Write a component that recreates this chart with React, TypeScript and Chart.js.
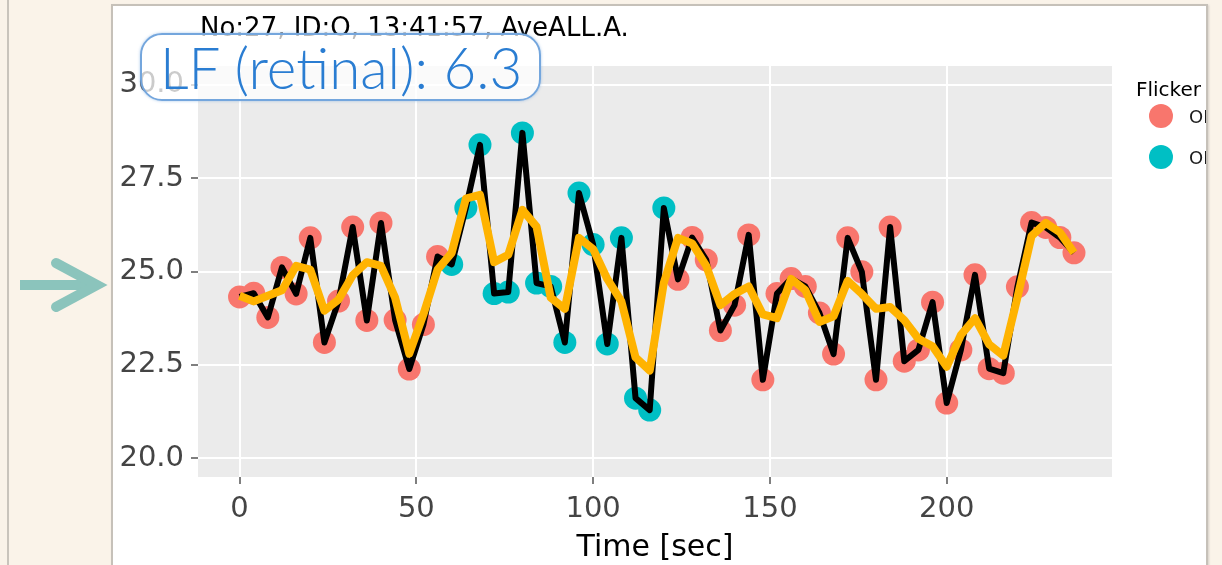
import React, { useEffect, useRef } from "react";
import { Chart, registerables } from "chart.js";

Chart.register(...registerables);

// ---- data ----
const times = [
  0, 4, 8, 12, 16, 20, 24, 28, 32, 36, 40, 44, 48, 52, 56, 60, 64, 68, 72, 76,
  80, 84, 88, 92, 96, 100, 104, 108, 112, 116, 120, 124, 128, 132, 136, 140,
  144, 148, 152, 156, 160, 164, 168, 172, 176, 180, 184, 188, 192, 196, 200,
  204, 208, 212, 216, 220, 224, 228, 232, 236,
];

const values = [
  24.32, 24.42, 23.77, 25.11, 24.4, 25.9, 23.1, 24.21, 26.19, 23.69, 26.3,
  23.7, 22.39, 23.58, 25.4, 25.19, 26.7, 28.39, 24.41, 24.45, 28.71, 24.69,
  24.6, 23.1, 27.1, 25.72, 23.06, 25.9, 21.61, 21.29, 26.7, 24.79, 25.91,
  25.31, 23.42, 24.1, 25.98, 22.1, 24.41, 24.81, 24.6, 23.89, 22.79, 25.9,
  24.99, 22.1, 26.19, 22.6, 22.9, 24.18, 21.48, 22.9, 24.91, 22.4, 22.28,
  24.59, 26.31, 26.18, 25.91, 25.5,
];

const flicker = [
  "OFF", "OFF", "OFF", "OFF", "OFF", "OFF", "OFF", "OFF", "OFF", "OFF",
  "OFF", "OFF", "OFF", "OFF", "OFF", "ON", "ON", "ON", "ON", "ON",
  "ON", "ON", "ON", "ON", "ON", "ON", "ON", "ON", "ON", "ON",
  "ON", "OFF", "OFF", "OFF", "OFF", "OFF", "OFF", "OFF", "OFF", "OFF",
  "OFF", "OFF", "OFF", "OFF", "OFF", "OFF", "OFF", "OFF", "OFF", "OFF",
  "OFF", "OFF", "OFF", "OFF", "OFF", "OFF", "OFF", "OFF", "OFF", "OFF",
];

const smoothed = [
  24.35, 24.2, 24.35, 24.5, 25.15, 25.05, 23.95, 24.25, 24.9, 25.25, 25.15,
  24.3, 22.8, 23.85, 25.05, 25.5, 26.95, 27.05, 25.25, 25.45, 26.65, 26.2,
  24.3, 24.0, 25.9, 25.6, 24.8, 24.2, 22.7, 22.35, 24.7, 25.9, 25.75, 25.15,
  24.1, 24.4, 24.6, 23.85, 23.75, 24.8, 24.5, 23.65, 23.8, 24.75, 24.4, 24.0,
  24.05, 23.7, 23.2, 23.0, 22.45, 23.3, 23.75, 23.05, 22.75, 24.3, 25.95,
  26.3, 26.05, 25.5,
];

const xTicks = [0, 50, 100, 150, 200];
const xTickLabels = ["0", "50", "100", "150", "200"];
const yTicks = [20, 22.5, 25, 27.5, 30];
const yTickLabels = ["20.0", "22.5", "25.0", "27.5", "30.0"];

const titleText = "No:27, ID:O, 13:41:57, AveALL.A.";
const xTitle = "Time [sec]";
const legendTitle = "Flicker";
const legendLabels = ["OFF", "ON"];
const badgeText = "LF (retinal): 6.3";

const OFF_COLOR = "#F8766D";
const ON_COLOR = "#00BFC4";
const BEIGE = "#faf3e9";
const FONT = "'DejaVu Sans', sans-serif";

const panelBg = {
  id: "panelBg",
  beforeDraw(chart: any) {
    const { ctx, chartArea } = chart;
    if (!chartArea) return;
    ctx.save();
    ctx.fillStyle = "#EBEBEB";
    ctx.fillRect(
      chartArea.left,
      chartArea.top,
      chartArea.right - chartArea.left,
      chartArea.bottom - chartArea.top
    );
    ctx.restore();
  },
};

function PlotCanvas() {
  const ref = useRef<HTMLCanvasElement | null>(null);

  useEffect(() => {
    if (!ref.current) return;
    const raw = times.map((t, i) => ({ x: t, y: values[i] }));
    const smooth = times.map((t, i) => ({ x: t, y: smoothed[i] }));
    const off = times
      .map((t, i) => ({ x: t, y: values[i], f: flicker[i] }))
      .filter((p) => p.f === "OFF")
      .map((p) => ({ x: p.x, y: p.y }));
    const on = times
      .map((t, i) => ({ x: t, y: values[i], f: flicker[i] }))
      .filter((p) => p.f === "ON")
      .map((p) => ({ x: p.x, y: p.y }));

    const chart = new Chart(ref.current, {
      type: "scatter",
      data: {
        datasets: [
          {
            label: "smooth",
            data: smooth,
            showLine: true,
            borderColor: "#FFB300",
            borderWidth: 8,
            pointRadius: 0,
            pointHoverRadius: 0,
            borderJoinStyle: "round",
            borderCapStyle: "butt",
            order: 1,
          } as any,
          {
            label: "raw",
            data: raw,
            showLine: true,
            borderColor: "#000000",
            borderWidth: 6,
            pointRadius: 0,
            pointHoverRadius: 0,
            borderJoinStyle: "round",
            order: 2,
          } as any,
          {
            label: legendLabels[0],
            data: off,
            pointRadius: 11.5,
            pointBackgroundColor: OFF_COLOR,
            pointBorderWidth: 0,
            backgroundColor: OFF_COLOR,
            borderWidth: 0,
            order: 3,
          } as any,
          {
            label: legendLabels[1],
            data: on,
            pointRadius: 11.5,
            pointBackgroundColor: ON_COLOR,
            pointBorderWidth: 0,
            backgroundColor: ON_COLOR,
            borderWidth: 0,
            order: 3,
          } as any,
        ],
      },
      options: {
        responsive: false,
        animation: false,
        devicePixelRatio: 1,
        layout: { padding: { left: 0, right: 93, top: 61, bottom: 0 } },
        plugins: {
          legend: { display: false },
          tooltip: { enabled: false },
          title: { display: false },
        },
        scales: {
          x: {
            type: "linear",
            min: -11.75,
            max: 246.75,
            afterBuildTicks: (s: any) => {
              s.ticks = xTicks.map((v) => ({ value: v }));
            },
            afterFit: (s: any) => {
              s.height = 88;
            },
            border: { display: false },
            grid: {
              color: "#FFFFFF",
              lineWidth: 2,
              drawTicks: true,
              tickLength: 7,
              tickColor: "#555555",
              tickWidth: 1.5,
            },
            ticks: {
              autoSkip: false,
              maxRotation: 0,
              padding: 8,
              color: "#444444",
              font: { family: FONT, size: 29 },
              callback: (_v: any, i: number) => xTickLabels[i],
            },
            title: {
              display: true,
              text: xTitle,
              color: "#000000",
              font: { family: FONT, size: 30, lineHeight: 1.1 },
              padding: { top: 0, bottom: 0 },
            },
          },
          y: {
            type: "linear",
            min: 19.5,
            max: 30.5,
            afterBuildTicks: (s: any) => {
              s.ticks = yTicks.map((v) => ({ value: v }));
            },
            afterFit: (s: any) => {
              s.width = 86;
            },
            border: { display: false },
            grid: {
              color: "#FFFFFF",
              lineWidth: 2,
              drawTicks: true,
              tickLength: 7,
              tickColor: "#555555",
              tickWidth: 1.5,
            },
            ticks: {
              autoSkip: false,
              padding: 7,
              color: "#444444",
              font: { family: FONT, size: 29 },
              callback: (_v: any, i: number) => yTickLabels[i],
            },
          },
        },
      } as any,
      plugins: [panelBg],
    });
    return () => chart.destroy();
  }, []);

  return (
    <canvas
      ref={ref}
      width={1093}
      height={560}
      style={{ position: "absolute", left: 0, top: 0, width: 1093, height: 560, display: "block" }}
    />
  );
}

export default function App() {
  return (
    <div
      style={{
        position: "fixed",
        left: 0,
        top: 0,
        width: 1222,
        height: 565,
        background: BEIGE,
        overflow: "hidden",
        fontFamily: FONT,
      }}
    >
      {/* left strip line */}
      <div style={{ position: "absolute", left: 7, top: 0, width: 2, height: 565, background: "#c9c4bc" }} />

      {/* white panel */}
      <div
        style={{
          position: "absolute",
          left: 112,
          top: 5,
          width: 1094,
          height: 560,
          background: "#ffffff",
          overflow: "hidden",
        }}
      >
        <PlotCanvas />
        <div
          style={{
            position: "absolute",
            left: 88,
            top: 9,
            fontSize: 26,
            lineHeight: "26px",
            color: "#000",
            whiteSpace: "nowrap",
          }}
        >
          {titleText}
        </div>
        {/* legend */}
        <div
          style={{
            position: "absolute",
            left: 1024,
            top: 74,
            fontSize: 20,
            lineHeight: "20px",
            color: "#000",
            whiteSpace: "nowrap",
          }}
        >
          {legendTitle}
        </div>
        {[OFF_COLOR, ON_COLOR].map((c, i) => (
          <React.Fragment key={i}>
            <div
              style={{
                position: "absolute",
                left: 1049 - 12,
                top: 111 + i * 41 - 12,
                width: 24,
                height: 24,
                borderRadius: 12,
                background: c,
              }}
            />
            <div
              style={{
                position: "absolute",
                left: 1077,
                top: 103 + i * 41,
                fontSize: 18,
                lineHeight: "18px",
                color: "#1a1a1a",
                whiteSpace: "nowrap",
              }}
            >
              {legendLabels[i]}
            </div>
          </React.Fragment>
        ))}
      </div>

      {/* panel border */}
      <div
        style={{
          position: "absolute",
          left: 111,
          top: 4,
          width: 1097,
          height: 570,
          boxSizing: "border-box",
          border: "2px solid #c6c1b9",
          boxShadow: "1px 1px 2px rgba(0,0,0,0.15)",
          pointerEvents: "none",
        }}
      />

      {/* arrow */}
      <svg
        width={112}
        height={565}
        style={{ position: "absolute", left: 0, top: 0 }}
      >
        <line x1={20} y1={285} x2={95} y2={285} stroke="#8bc4bc" strokeWidth={10} strokeLinecap="butt" />
        <polyline
          points="56,263 97,285 56,307"
          fill="none"
          stroke="#8bc4bc"
          strokeWidth={10}
          strokeLinecap="round"
          strokeLinejoin="miter"
        />
      </svg>

      {/* badge */}
      <div
        style={{
          position: "absolute",
          left: 140,
          top: 33,
          width: 401,
          height: 68,
          boxSizing: "border-box",
          border: "2px solid #74a6dd",
          borderRadius: 22,
          background: "rgba(255,255,255,0.72)",
          boxShadow: "0 0 3px rgba(116,166,221,0.6)",
          display: "flex",
          alignItems: "center",
          paddingLeft: 18,
          fontFamily: "Lato, sans-serif",
          fontWeight: 300,
          fontSize: 56.5,
          lineHeight: 1,
          color: "#2a7dd2",
          whiteSpace: "nowrap",
        }}
      >
        {badgeText}
      </div>
    </div>
  );
}
